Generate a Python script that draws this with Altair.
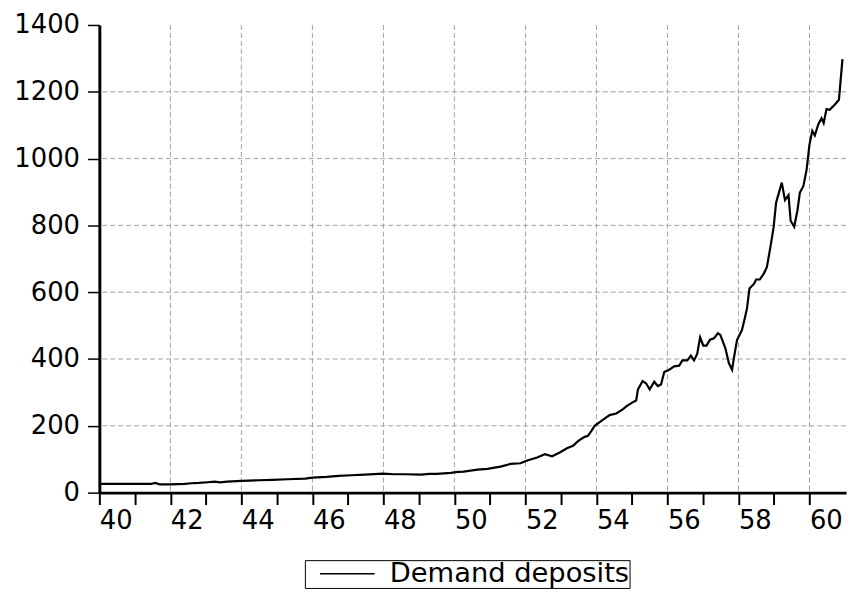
import altair as alt
import pandas as pd

SERIES = "Demand deposits"
YEARS = [40.0, 40.5, 41.0, 41.45, 41.57, 41.7, 42.0, 42.4, 42.6, 42.8, 43.05, 43.25, 43.4, 43.6,
         44.0, 44.5, 44.87, 45.3, 45.8, 46.0, 46.4, 46.74, 47.1, 47.47, 48.0, 48.3, 48.6, 49.06,
         49.3, 49.5, 49.9, 50.1, 50.26, 50.65, 50.93, 51.3, 51.58, 51.86, 52.05, 52.33, 52.55,
         52.75, 52.98, 53.17, 53.34, 53.49, 53.67, 53.76, 53.86, 53.95, 54.14, 54.37, 54.56,
         54.75, 54.85, 55.03, 55.12, 55.17, 55.3, 55.4, 55.5, 55.63, 55.73, 55.82, 55.91, 56.05,
         56.19, 56.33, 56.42, 56.56, 56.66, 56.75, 56.84, 56.92, 57.01, 57.1, 57.2, 57.31, 57.42,
         57.49, 57.63, 57.73, 57.82, 57.88, 57.96, 58.1, 58.19, 58.24, 58.31, 58.43, 58.5, 58.6,
         58.71, 58.8, 58.9, 58.99, 59.06, 59.22, 59.31, 59.41, 59.47, 59.57, 59.66, 59.73, 59.83,
         59.92, 60.0, 60.08, 60.15, 60.25, 60.34, 60.4, 60.48, 60.57, 60.71, 60.83, 60.93]
VALUES = [26, 26, 26, 26, 29, 25, 25, 26, 28, 29, 31, 33, 31, 33,
          35, 37, 38, 40, 42, 45, 47, 50, 52, 54, 57, 55, 55, 54,
          56, 56, 59, 62, 63, 69, 71, 78, 86, 88, 96, 105, 115,
          109, 121, 133, 140, 155, 167, 170, 185, 200, 215, 232, 237,
          250, 259, 271, 276, 309, 334, 327, 309, 332, 319, 324, 361, 368,
          378, 380, 396, 396, 410, 396, 416, 465, 440, 440, 458, 462, 477,
          472, 433, 388, 368, 408, 457, 487, 527, 551, 611, 624, 638, 638,
          655, 675, 735, 794, 868, 928, 876, 891, 814, 796, 844, 898, 918,
          967, 1042, 1083, 1069, 1103, 1121, 1106, 1148, 1146, 1161, 1176, 1298]
X_TICKS = list(range(40, 61))
Y_TICKS = [0, 200, 400, 600, 800, 1000, 1200, 1400]
GRID_X = list(range(42, 61, 2))
GRID_Y = [200, 400, 600, 800, 1000, 1200]

FONT = "DejaVu Sans"

df = pd.DataFrame({"year": YEARS, "value": VALUES, "series": SERIES})
gx = pd.DataFrame({"year": GRID_X})
gy = pd.DataFrame({"value": GRID_Y})

xscale = alt.Scale(domain=[40, 61.03], nice=False, zero=False)
yscale = alt.Scale(domain=[0, 1400], nice=False)

XAXIS = alt.Axis(
    values=X_TICKS, title=None, grid=False,
    labelExpr="datum.value % 2 == 0 ? format(datum.value, 'd') : ''",
    labelAlign="left", labelBaseline="top", labelFlush=False, labelOverlap=False,
    labelFont=FONT, labelFontSize=26, labelColor="black", labelPadding=3,
    tickSize=12, tickWidth=2, tickColor="black",
    domainColor="black", domainWidth=3)
YAXIS = alt.Axis(
    values=Y_TICKS, title=None, grid=False, format="d",
    labelFont=FONT, labelFontSize=26, labelColor="black", labelPadding=8,
    labelOverlap=False, labelFlush=False,
    tickSize=12, tickWidth=1.5, tickColor="black",
    domainColor="black", domainWidth=3)

grid_style = dict(color="#a0a0a0", strokeDash=[5, 3], strokeWidth=1)

vgrid = alt.Chart(gx).mark_rule(**grid_style).encode(
    x=alt.X("year:Q", scale=xscale, axis=XAXIS)
)
hgrid = alt.Chart(gy).mark_rule(**grid_style).encode(
    y=alt.Y("value:Q", scale=yscale, axis=YAXIS)
)

line = alt.Chart(df).mark_line(strokeWidth=2.2, interpolate="linear").encode(
    x=alt.X("year:Q", scale=xscale, axis=XAXIS),
    y=alt.Y("value:Q", scale=yscale, axis=YAXIS),
    color=alt.Color("series:N", scale=alt.Scale(range=["black"]), legend=alt.Legend(
        title=None, orient="none", legendX=207, legendY=539,
        strokeColor="black", fillColor="white", padding=0,
        symbolType="M-2.75,0H2.75", symbolSize=400, symbolStrokeWidth=1.5,
        symbolStrokeColor="black", symbolOffset=29, labelOffset=29, labelLimit=0,
        labelFont=FONT, labelFontSize=27.5, labelColor="black")),
)

chart = alt.layer(vgrid, hgrid, line).properties(
    width=752, height=471,
    autosize=alt.AutoSizeParams(type="none"),
    padding={"left": 92, "top": 15, "right": 4, "bottom": 100},
).configure_view(stroke=None)

chart.save("out.html", embed_options={"renderer": "svg", "actions": False})
